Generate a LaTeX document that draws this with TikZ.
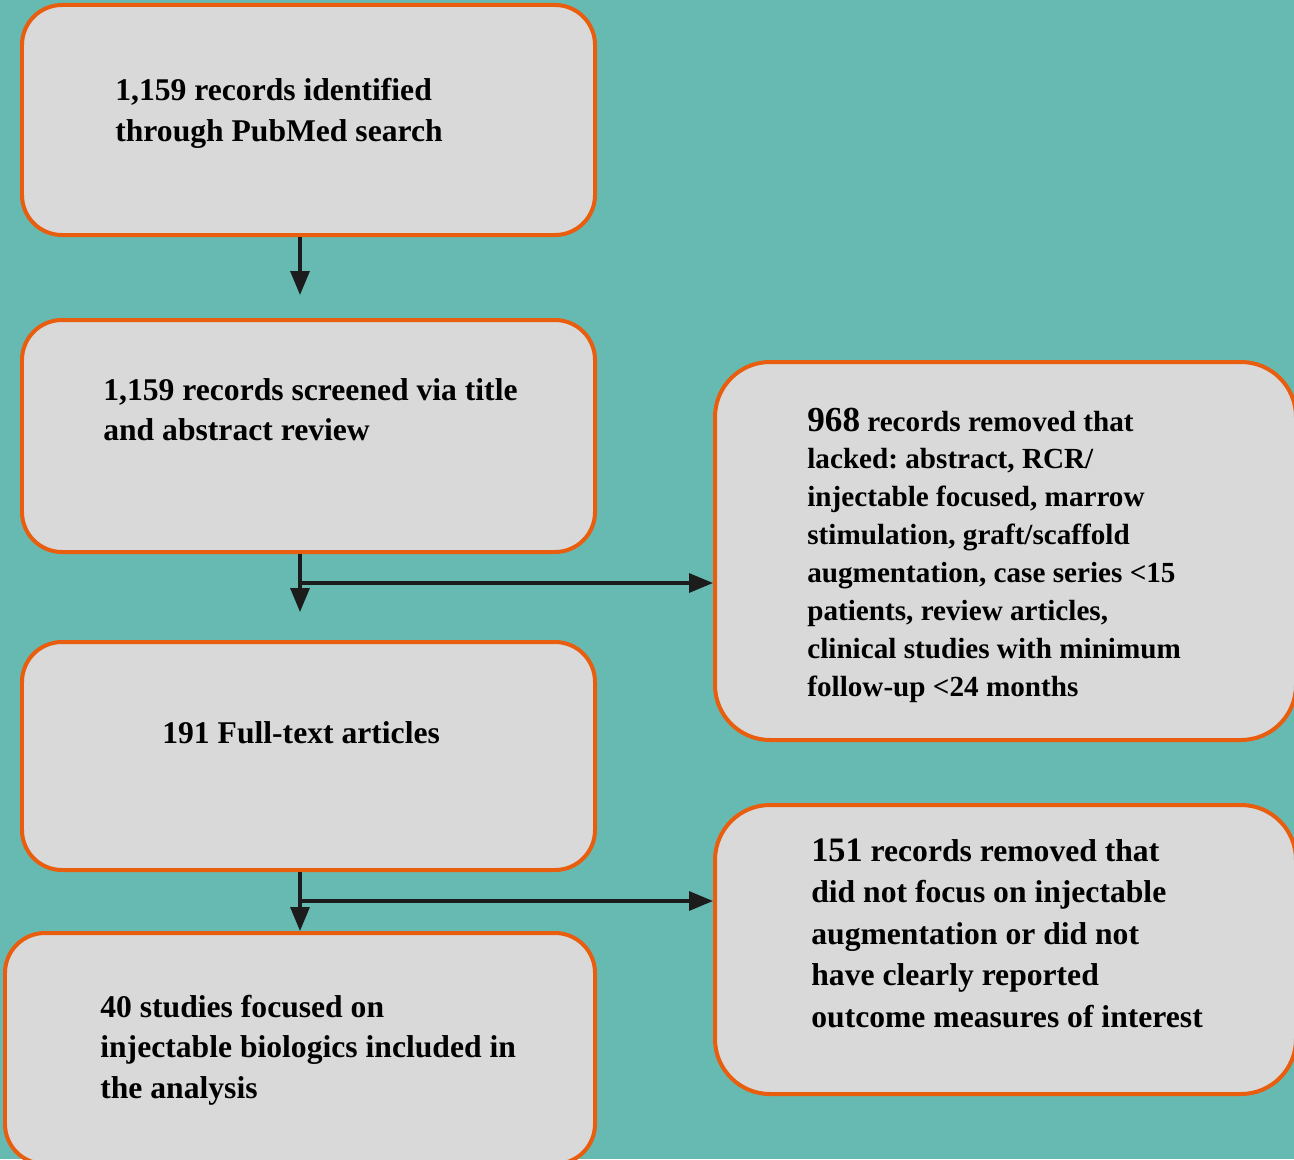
\documentclass[tikz,border=0pt]{standalone}
\usepackage{fontspec}
\setmainfont{Liberation Serif}
\usetikzlibrary{arrows.meta,fit}
\frenchspacing
\definecolor{bg}{HTML}{67BAB1}
\definecolor{boxfill}{HTML}{D9D9D9}
\definecolor{boxline}{HTML}{E85E0E}
\definecolor{arrowc}{HTML}{1C1C1C}
\tikzset{
  box/.style={draw=boxline, fill=boxfill, line width=0.08cm, rounded corners=0.8cm, inner sep=0pt},
  bigbox/.style={box, rounded corners=1.1cm},
  txt/.style={anchor=base west, inner sep=0pt, font=\bfseries},
  arr/.style={draw=arrowc, line width=0.065cm, -{Triangle[length=0.48cm,width=0.38cm]}},
}
\begin{document}
\begin{tikzpicture}[x=0.02cm, y=-0.02cm]
\useasboundingbox (0,0) rectangle (1294,1159);
\clip (0,0) rectangle (1294,1159);
\fill[bg] (0,0) rectangle (1294,1159);

% boxes
\node[box, fit={(22,5) (595,235)}] (b1) {};
\node[box, fit={(22,320) (595,552)}] (b2) {};
\node[bigbox, fit={(715,362) (1296,740)}] (b3) {};
\node[box, fit={(22,642) (595,870)}] (b4) {};
\node[box, fit={(5,933) (595,1164)}] (b5) {};
\node[bigbox, fit={(715,805) (1296,1094)}] (b6) {};

% texts
\node[txt] (t1) at (115,101) {\parbox[t]{14cm}{\fontsize{18pt}{23.3pt}\selectfont\raggedright
  1,159 records identified\\through PubMed search}};
\node[txt] (t2) at (103,400) {\parbox[t]{14cm}{\fontsize{18pt}{23.3pt}\selectfont\raggedright
  1,159 records screened via title\\and abstract review}};
\node[txt] (t3) at (807,431) {\parbox[t]{14cm}{\fontsize{16.6pt}{21.6pt}\selectfont\raggedright
  {\fontsize{20pt}{21.6pt}\selectfont 968} records removed that\\
  lacked: abstract, RCR/\\
  injectable focused, marrow\\
  stimulation, graft/scaffold\\
  augmentation, case series <15\\
  patients, review articles,\\
  clinical studies with minimum\\
  follow-up <24 months}};
\node[txt] (t4) at (162,743) {\parbox[t]{14cm}{\fontsize{18pt}{23.3pt}\selectfont\raggedright
  191 Full-text articles}};
\node[txt] (t5) at (100,1017) {\parbox[t]{14cm}{\fontsize{18pt}{23.3pt}\selectfont\raggedright
  40 studies focused on\\injectable biologics included in\\the analysis}};
\node[txt] (t6) at (811,861) {\parbox[t]{14cm}{\fontsize{18pt}{23.7pt}\selectfont\raggedright
  {\fontsize{19.5pt}{23.7pt}\selectfont 151} records removed that\\
  did not focus on injectable\\
  augmentation or did not\\
  have clearly reported\\
  outcome measures of interest}};

% connectors
\coordinate (a1) at (300,295);
\coordinate (a2) at (300,612);
\coordinate (a3) at (300,931);
\coordinate (h1) at (300,583);
\coordinate (h2) at (300,901);
\draw[arr] (b1.south -| a1) -- (a1);
\draw[arr] (b2.south -| a2) -- (a2);
\draw[arr] (h1) -- (h1 -| b3.west);
\draw[arr] (b4.south -| a3) -- (a3);
\draw[arr] (h2) -- (h2 -| b6.west);
\end{tikzpicture}
\end{document}
